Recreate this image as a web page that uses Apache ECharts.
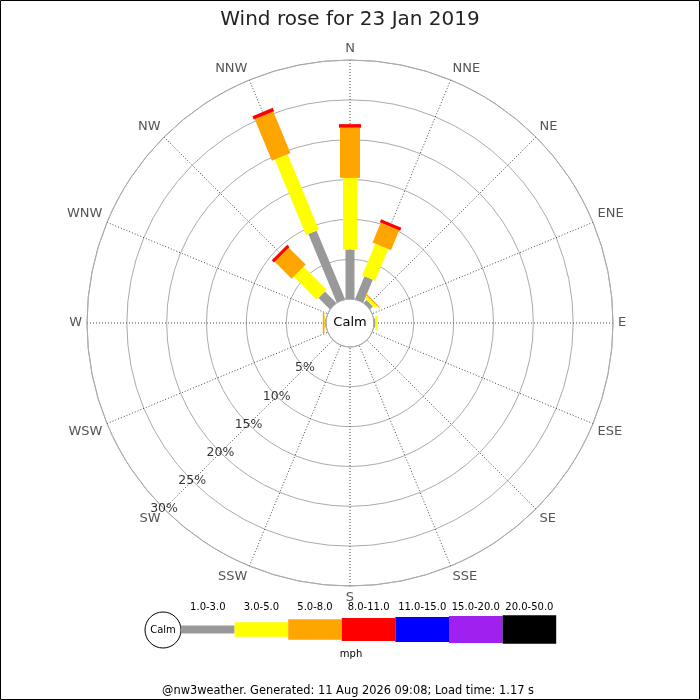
<!DOCTYPE html>
<html>
<head>
<meta charset="utf-8">
<script src="https://cdn.jsdelivr.net/npm/echarts@6/dist/echarts.min.js"></script>
<style>
html, body { margin: 0; padding: 0; background: #fff; }
#main { width: 700px; height: 700px; }
</style>
</head>
<body>
<div id="main"></div>
<script>
// wind rose data, % of the day per direction and speed band
var directions = ['N', 'NNE', 'NE', 'ENE', 'E', 'ESE', 'SE', 'SSE', 'S', 'SSW', 'SW', 'WSW', 'W', 'WNW', 'NW', 'NNW'];
var speedBands = ['1.0-3.0', '3.0-5.0', '5.0-8.0', '8.0-11.0', '11.0-15.0', '15.0-20.0', '20.0-50.0'];
var speed1to3   = [6.2, 3.1, 0.5, 0, 0.15, 0, 0, 0, 0, 0, 0, 0, 0.1, 0, 2.0, 9.3];
var speed3to5   = [9.0, 4.3, 0.4, 0, 0.3, 0, 0, 0, 0, 0, 0, 0, 0.1, 0, 4.1, 10.25];
var speed5to8   = [6.3, 2.7, 0.15, 0, 0, 0, 0, 0, 0, 0, 0, 0, 0.2, 0, 3.0, 5.65];
var speed8to11  = [0.45, 0.4, 0, 0, 0, 0, 0, 0, 0, 0, 0, 0, 0, 0, 0.4, 0.45];
var speed11to15 = [0, 0, 0, 0, 0, 0, 0, 0, 0, 0, 0, 0, 0, 0, 0, 0];
var speed15to20 = [0, 0, 0, 0, 0, 0, 0, 0, 0, 0, 0, 0, 0, 0, 0, 0];
var speed20to50 = [0, 0, 0, 0, 0, 0, 0, 0, 0, 0, 0, 0, 0, 0, 0, 0];
var pctTicks = [5, 10, 15, 20, 25, 30];

var bandData = [speed1to3, speed3to5, speed5to8, speed8to11, speed11to15, speed15to20, speed20to50];
var bandColors = ['#999999', '#ffff00', '#ffa500', '#ff0000', '#0000ff', '#a020f0', '#000000'];
var bandWidths = [9, 14, 20, 22, 25, 27, 29];
var FONT = 'DejaVu Sans';
var CX = 350, CY = 323;

var myecharts = echarts.init(document.getElementById('main'));

// stack the bands outward from the calm circle
var base = directions.map(function () { return 0; });
var series = bandData.map(function (band, b) {
    var data = band.map(function (v, i) {
        var item = [i * 22.5, base[i], base[i] + v];
        base[i] += v;
        return item;
    });
    return {
        name: speedBands[b],
        type: 'custom',
        coordinateSystem: 'polar',
        encode: {angle: 0, radius: 2},
        data: data,
        renderItem: function (params, api) {
            var a = api.value(0), r0 = api.value(1), r1 = api.value(2);
            if (!(r1 > r0)) return;
            var p0 = api.coord([r0, a]);
            var p1 = api.coord([r1, a]);
            var dx = p1[0] - p0[0], dy = p1[1] - p0[1];
            var len = Math.sqrt(dx * dx + dy * dy) || 1;
            var hw = bandWidths[b] / 2;
            var nx = -dy / len * hw, ny = dx / len * hw;
            return {
                type: 'polygon',
                shape: {points: [
                    [p0[0] + nx, p0[1] + ny], [p1[0] + nx, p1[1] + ny],
                    [p1[0] - nx, p1[1] - ny], [p0[0] - nx, p0[1] - ny]
                ]},
                style: {fill: bandColors[b]}
            };
        }
    };
});

// percentage labels along the SW spoke
series.push({
    type: 'scatter',
    coordinateSystem: 'polar',
    silent: true,
    symbolSize: 1,
    itemStyle: {color: 'rgba(0,0,0,0)'},
    data: pctTicks.map(function (p) { return [p, 225]; }),
    label: {
        show: true,
        position: 'inside',
        color: '#000',
        textBorderWidth: 0,
        fontSize: 12.5,
        fontFamily: FONT,
        formatter: function (p) { return p.value[0] + '%'; }
    },
    z: 10
});

// legend under the rose
var graphics = [
    {type: 'rect', shape: {x: 0.5, y: 0.5, width: 699, height: 699}, style: {fill: 'none', stroke: '#000', lineWidth: 1}, z: 100},
    {type: 'text', x: CX, y: CY, style: {text: 'Calm', font: '13px "DejaVu Sans"', fill: '#000', align: 'center', verticalAlign: 'middle'}},
    {type: 'circle', shape: {cx: 163, cy: 630, r: 18}, style: {fill: '#fff', stroke: '#000', lineWidth: 1}},
    {type: 'text', x: 163, y: 630, style: {text: 'Calm', font: '10px "DejaVu Sans"', fill: '#000', align: 'center', verticalAlign: 'middle'}},
    {type: 'text', x: 351, y: 654, style: {text: 'mph', font: '10px "DejaVu Sans"', fill: '#000', align: 'center', verticalAlign: 'middle'}},
    {type: 'text', x: 348, y: 691, style: {text: '@nw3weather. Generated: 11 Aug 2026 09:08; Load time: 1.17 s', font: '11.4px "DejaVu Sans"', fill: '#000', align: 'center', verticalAlign: 'middle'}}
];
var segLeft = 181, segW = 53.6, segMid = 629.5;
var legendHeights = [8, 14.5, 20.5, 23, 25, 27, 28.5];
speedBands.forEach(function (name, b) {
    graphics.push({type: 'rect', shape: {x: segLeft + b * segW, y: segMid - legendHeights[b] / 2, width: segW, height: legendHeights[b]}, style: {fill: bandColors[b]}});
    graphics.push({type: 'text', x: segLeft + b * segW + segW / 2, y: 607, style: {text: name, font: '10px "DejaVu Sans"', fill: '#000', align: 'center', verticalAlign: 'middle'}});
});

var option = {
    animation: false,
    textStyle: {fontFamily: FONT},
    title: {
        text: 'Wind rose for 23 Jan 2019',
        left: 'center',
        top: 5,
        textStyle: {fontSize: 20, fontWeight: 'normal', color: '#222', fontFamily: FONT}
    },
    polar: {
        center: [CX, CY],
        radius: [24, 263]
    },
    angleAxis: {
        type: 'value',
        min: 0,
        max: 360,
        interval: 22.5,
        startAngle: 90,
        clockwise: true,
        axisLine: {lineStyle: {color: '#aaaaaa', width: 1}},
        axisTick: {show: false},
        axisLabel: {
            margin: 5,
            color: '#555',
            fontSize: 13,
            fontFamily: FONT,
            formatter: function (v) {
                if (v >= 360) return '';
                return directions[Math.round(v / 22.5) % 16];
            }
        },
        splitLine: {show: true, lineStyle: {color: '#444', type: [1, 2], width: 1}}
    },
    radiusAxis: {
        min: 0,
        max: 30,
        interval: 5,
        axisLine: {show: false},
        axisTick: {show: false},
        axisLabel: {show: false},
        splitLine: {show: true, lineStyle: {color: '#aaaaaa', width: 1}}
    },
    graphic: graphics,
    series: series
};
myecharts.setOption(option);
</script>
</body>
</html>
